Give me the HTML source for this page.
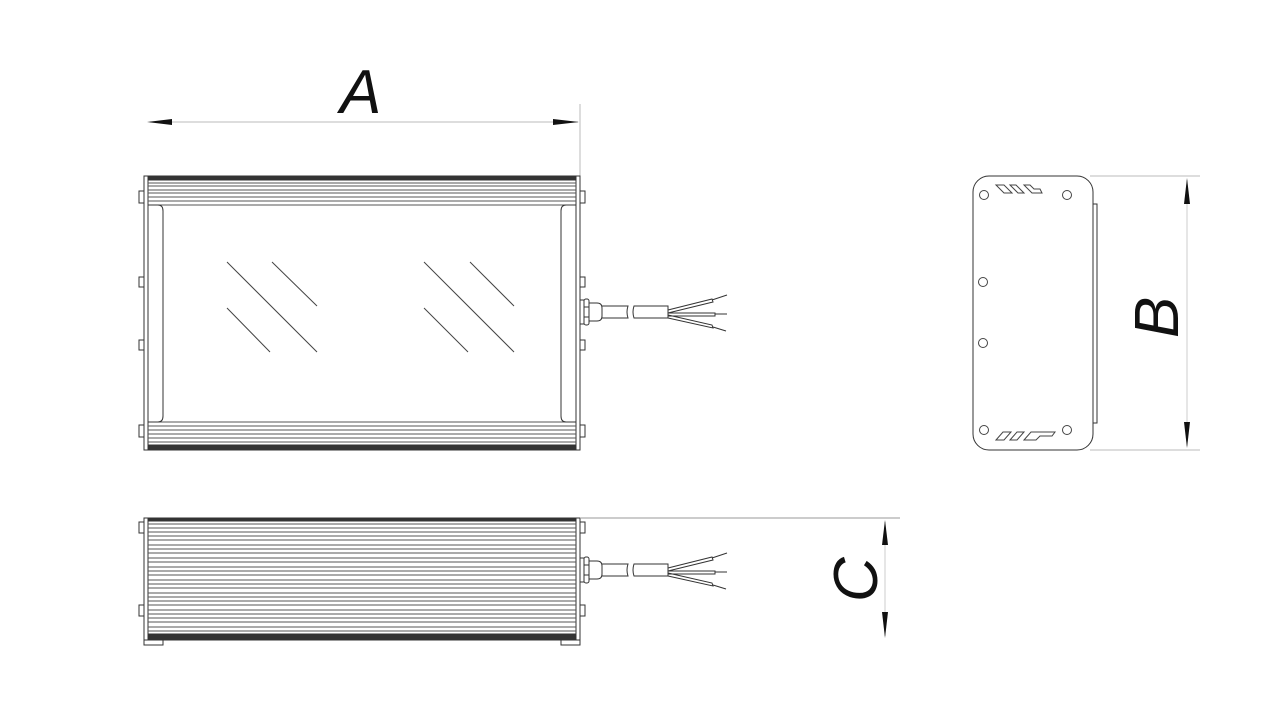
<!DOCTYPE html>
<html><head><meta charset="utf-8"><style>html,body{margin:0;padding:0;background:#fff;width:1280px;height:720px;overflow:hidden}</style></head>
<body>
<svg width="1280" height="720" viewBox="0 0 1280 720" xmlns="http://www.w3.org/2000/svg" fill="none" stroke="#333" stroke-width="1">
<defs>
<g id="cable">
  <rect x="580" y="-12" width="4" height="24" fill="#fff"/>
  <rect x="584" y="-13" width="5" height="26" rx="2" fill="#fff"/>
  <path d="M589 -9 h8 q5 0 5 5 v8 q0 5 -5 5 h-8 z" fill="#fff"/>
  <line x1="584" y1="-5" x2="589" y2="-5"/><line x1="584" y1="5" x2="589" y2="5"/>
  <path d="M602 -6 H628 q-2 6 0 12 H602"/>
  <path d="M634 -6 q-2 6 0 12 H668 V-6 Z"/>
  <path d="M668 -2 L712 -13 L713 -10 L668 1"/>
  <path d="M668 1 H715 V4 H668"/>
  <path d="M668 3 L712 13 L713 16 L668 6"/>
  <line x1="712" y1="-12" x2="727" y2="-17"/>
  <line x1="715" y1="2" x2="727" y2="2"/>
  <line x1="713" y1="15" x2="726" y2="19"/>
</g>
</defs>

<!-- Dimension A -->
<line x1="580" y1="104" x2="580" y2="176" stroke="#bbb"/>
<line x1="150" y1="122" x2="578" y2="122" stroke="#bbb"/>
<polygon points="147,122 172,119 172,125" fill="#111" stroke="none"/>
<polygon points="579,122 553,119 553,125" fill="#111" stroke="none"/>
<text x="340" y="113" font-family="Liberation Sans, sans-serif" font-style="italic" font-size="62" fill="#111" stroke="none">A</text>

<!-- Top view -->
<g>
  <rect x="144" y="176" width="436" height="274" fill="#fff"/>
  <line x1="148" y1="176" x2="148" y2="450"/>
  <line x1="576" y1="176" x2="576" y2="450"/>
  <!-- tabs -->
  <rect x="139" y="191" width="5" height="12"/><rect x="139" y="277" width="5" height="10"/>
  <rect x="139" y="340" width="5" height="10"/><rect x="139" y="425" width="5" height="12"/>
  <rect x="580" y="191" width="5" height="12"/><rect x="580" y="277" width="5" height="10"/>
  <rect x="580" y="340" width="5" height="10"/><rect x="580" y="425" width="5" height="12"/>
  <!-- top rail -->
  <rect x="148" y="176" width="428" height="4" fill="#333"/>
  <g stroke="#555">
    <line x1="148" y1="183" x2="576" y2="183"/><line x1="148" y1="186" x2="576" y2="186"/>
    <line x1="148" y1="190" x2="576" y2="190"/><line x1="148" y1="193" x2="576" y2="193"/>
    <line x1="148" y1="197" x2="576" y2="197"/><line x1="148" y1="201" x2="576" y2="201"/>
    <line x1="148" y1="205" x2="576" y2="205"/>
    <line x1="148" y1="422" x2="576" y2="422"/><line x1="148" y1="426" x2="576" y2="426"/>
    <line x1="148" y1="430" x2="576" y2="430"/><line x1="148" y1="434" x2="576" y2="434"/>
    <line x1="148" y1="438" x2="576" y2="438"/><line x1="148" y1="442" x2="576" y2="442"/>
  </g>
  <rect x="148" y="445" width="428" height="4" fill="#333"/>
  <!-- inner sides -->
  <path d="M148 205 H158 q5 0 5 6 V416 q0 6 -5 6 H148"/>
  <path d="M576 205 H566 q-5 0 -5 6 V416 q0 6 5 6 H576"/>
  <!-- glass -->
  <g stroke="#444">
    <line x1="227" y1="262" x2="317" y2="352"/><line x1="272" y1="262" x2="317" y2="306"/>
    <line x1="227" y1="308" x2="270" y2="352"/>
    <line x1="424" y1="262" x2="514" y2="352"/><line x1="470" y1="262" x2="514" y2="306"/>
    <line x1="424" y1="308" x2="468" y2="352"/>
  </g>
  <use href="#cable" transform="translate(0,312)"/>
</g>

<!-- Side view -->
<g>
  <rect x="144" y="518" width="436" height="122" fill="#fff"/>
  <line x1="148" y1="518" x2="148" y2="640"/><line x1="576" y1="518" x2="576" y2="640"/>
  <rect x="139" y="522" width="5" height="11"/><rect x="139" y="605" width="5" height="11"/>
  <rect x="580" y="522" width="5" height="11"/><rect x="580" y="605" width="5" height="11"/>
  <path d="M144 640 V645 H163 V640"/><path d="M580 640 V645 H561 V640"/>
  <rect x="148" y="518" width="428" height="3" fill="#333"/>
  <g stroke="#555">
    <line x1="148" y1="524" x2="576" y2="524"/><line x1="148" y1="528" x2="576" y2="528"/>
    <line x1="148" y1="532" x2="576" y2="532"/><line x1="148" y1="536" x2="576" y2="536"/>
    <line x1="148" y1="540" x2="576" y2="540"/><line x1="148" y1="545" x2="576" y2="545"/>
    <line x1="148" y1="549" x2="576" y2="549"/><line x1="148" y1="553" x2="576" y2="553"/>
    <line x1="148" y1="558" x2="576" y2="558"/><line x1="148" y1="562" x2="576" y2="562"/>
    <line x1="148" y1="567" x2="576" y2="567"/><line x1="148" y1="571" x2="576" y2="571"/>
    <line x1="148" y1="575" x2="576" y2="575"/><line x1="148" y1="580" x2="576" y2="580"/>
    <line x1="148" y1="584" x2="576" y2="584"/><line x1="148" y1="588" x2="576" y2="588"/>
    <line x1="148" y1="593" x2="576" y2="593"/><line x1="148" y1="597" x2="576" y2="597"/>
    <line x1="148" y1="601" x2="576" y2="601"/><line x1="148" y1="605" x2="576" y2="605"/>
    <line x1="148" y1="610" x2="576" y2="610"/><line x1="148" y1="614" x2="576" y2="614"/>
    <line x1="148" y1="618" x2="576" y2="618"/><line x1="148" y1="622" x2="576" y2="622"/>
    <line x1="148" y1="627" x2="576" y2="627"/><line x1="148" y1="631" x2="576" y2="631"/>
  </g>
  <rect x="148" y="634" width="428" height="5" fill="#333"/>
  <use href="#cable" transform="translate(0,570)"/>
</g>

<!-- Dimension C -->
<line x1="580" y1="518" x2="900" y2="518" stroke="#999"/>
<line x1="885" y1="522" x2="885" y2="636" stroke="#ccc"/>
<polygon points="885,520 882,545 888,545" fill="#111" stroke="none"/>
<polygon points="885,638 882,612 888,612" fill="#111" stroke="none"/>
<text transform="translate(877,602) rotate(-90)" font-family="Liberation Sans, sans-serif" font-style="italic" font-size="62" fill="#111" stroke="none">C</text>

<!-- End view -->
<g>
  <rect x="1093" y="204" width="4" height="219" fill="#fff"/>
  <rect x="973" y="176" width="120" height="274" rx="16" fill="#fff"/>
  <g stroke="#444">
    <circle cx="984" cy="195" r="4.5"/><circle cx="1067" cy="195" r="4.5"/>
    <circle cx="983" cy="282" r="4.5"/><circle cx="983" cy="343" r="4.5"/>
    <circle cx="984" cy="430" r="4.5"/><circle cx="1067" cy="430" r="4.5"/>
    <path d="M996 185 H1004 L1012 193 H1004 Z"/>
    <path d="M1010 185 H1016 L1024 193 H1018 Z"/>
    <path d="M1024 185 H1030 L1034 189 H1040 L1042 193 H1032 Z"/>
    <path d="M996 440 L1003 432 H1011 L1004 440 Z"/>
    <path d="M1010 440 L1017 432 H1024 L1017 440 Z"/>
    <path d="M1024 440 L1031 432 H1055 L1052 436 H1040 L1036 440 Z"/>
  </g>
</g>
<!-- Dimension B -->
<line x1="1090" y1="176" x2="1200" y2="176" stroke="#bbb"/>
<line x1="1090" y1="450" x2="1200" y2="450" stroke="#bbb"/>
<line x1="1187" y1="180" x2="1187" y2="446" stroke="#ccc"/>
<polygon points="1187,178 1184,204 1190,204" fill="#111" stroke="none"/>
<polygon points="1187,448 1184,422 1190,422" fill="#111" stroke="none"/>
<text transform="translate(1178,338) rotate(-90)" font-family="Liberation Sans, sans-serif" font-style="italic" font-size="62" fill="#111" stroke="none">B</text>
</svg>
</body></html>
